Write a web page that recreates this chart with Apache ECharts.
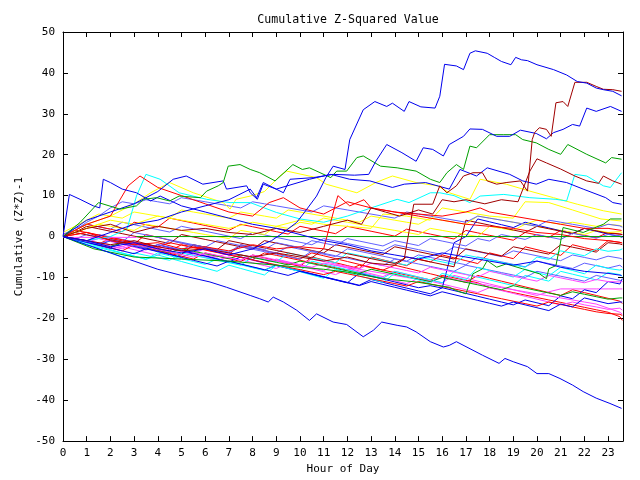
<!DOCTYPE html>
<html><head><meta charset="utf-8">
<script src="https://cdn.jsdelivr.net/npm/echarts@6/dist/echarts.min.js"></script>
<style>html,body{margin:0;padding:0;background:#fff}#c{width:640px;height:480px}</style>
</head><body><div id="c"></div><script>
const TITLE = 'Cumulative Z-Squared Value';
const X_NAME = 'Hour of Day';
const Y_NAME = 'Cumulative (Z*Z)-1';
const HALF = [0,0.5,1,1.5,2,2.5,3,3.5,4,4.5,5,5.5,6,6.5,7,7.5,8,8.5,9,9.5,10,10.5,11,11.5,12,12.5,13,13.5,14,14.5,15,15.5,16,16.5,17,17.5,18,18.5,19,19.5,20,20.5,21,21.5,22,22.5,23,23.5,23.6];

// detailed traces [hour, value]
const blueA = [[0,0],[1,-1],[2,-2.5],[3,-1.5],[4,-3],[5,-4],[6,-3],[7,-4.5],[8,-3],[8.8,-1],[9.3,1],[9.86,3.45],[10.2,6],[10.7,9.9],[11.1,14.5],[11.4,17.2],[11.9,16.4],[12.1,23.7],[12.67,31],[13.16,33],[13.66,31.8],[13.9,32.6],[14.4,30.6],[14.6,33],[15.1,31.7],[15.7,31.4],[15.9,34.3],[16.1,42.1],[16.6,41.7],[16.9,40.8],[17.17,44.8],[17.4,45.4],[17.9,44.8],[18.2,43.8],[18.5,42.8],[18.9,42],[19.1,43.8],[19.35,43.2],[19.6,43],[20,42],[20.7,40.8],[21.25,39.5],[21.7,37.9],[22.1,37.5],[22.5,36.3],[22.8,35.9],[23.2,35.5],[23.57,34.4]];
const darkRedB = [[0,0],[1,-1],[2,-2],[3,-1],[4,-2.5],[5,-3.5],[6,-3],[7,-4],[8,-5],[9,-4],[10,-5],[11,-6],[12,-5],[13,-6.5],[14,-7],[14.4,-5.5],[14.8,7.9],[15.6,7.9],[15.9,12.4],[16.2,10.7],[16.6,12.4],[16.9,14.8],[17.3,15.6],[17.7,15.6],[17.9,13.6],[18.3,12.8],[18.7,13.2],[19.3,13.6],[19.6,11.1],[19.8,23.7],[19.9,25.4],[20.1,26.6],[20.4,26.2],[20.6,24.5],[20.8,32.7],[21.1,33],[21.3,31.8],[21.6,37.7],[22.1,37.7],[22.5,36.7],[22.8,36],[23.2,35.9],[23.57,35.5]];
const blueC = [[0,0],[1,-1],[2,1],[3,3],[4,4],[5,6],[6,7.5],[7,9],[7.9,11.6],[8.17,9.5],[8.45,13.2],[9.3,10.7],[9.58,14],[10.56,14.4],[11.4,15.2],[12.3,15],[12.9,15.2],[13.2,18.4],[13.66,22.5],[14.3,20.5],[14.9,18.4],[15.2,21.7],[15.6,21.3],[16.05,19.7],[16.3,22.5],[16.9,24.5],[17.17,26.3],[17.7,26.2],[18.3,24.5],[18.85,24.5],[19.3,26],[19.97,25.2],[20.4,23.9],[20.7,25.4],[21.1,26.2],[21.5,27.4],[21.8,27],[22.1,31.4],[22.5,30.6],[23.1,31.8],[23.57,30.6]];
const blueD = [[0,0],[0.27,10.3],[0.72,9.1],[1.28,7.5],[1.55,7],[1.7,14],[2,13.2],[2.5,11.6],[3.1,10.7],[3.7,8.7],[4.1,9.9],[5,7.5],[6,6],[7,4.5],[8,3],[9,2],[10,0.5],[11,-1],[12,-2],[13,-3.5],[14,-4.5],[15,-5.5],[16,-4],[17,-5],[18,-6],[19,-7],[20,-6],[21,-7.5],[22,-8.5],[23,-9],[23.57,-9.5]];
const greenE = [[0,0],[0.72,3.45],[1.5,8.3],[2.4,6.7],[3.1,7.5],[3.4,9.1],[3.95,9.5],[4.5,8.7],[4.9,9.9],[5.8,9.5],[6.06,11.1],[6.55,12.4],[6.76,13.2],[6.97,17.2],[7.47,17.6],[7.9,16.4],[8.3,15.6],[8.95,13.6],[9.7,17.6],[10.1,16.4],[10.4,16.8],[11.3,14.4],[11.55,16],[11.97,16],[12.4,19.3],[12.67,19.7],[13.4,17.2],[14.1,16.8],[14.9,16],[15.5,14],[15.9,13.2],[16.2,15.6],[16.6,17.6],[16.9,16.4],[17.17,22.1],[17.45,21.7],[18,24.9],[18.6,24.9],[19.1,24.9],[19.4,23.7],[19.97,22.9],[20.5,21.3],[21,20.1],[21.3,22.5],[22.1,20.1],[22.9,18],[23.15,19.3],[23.57,18.9]];
const cyanF = [[0,0],[1,-1],[2,0],[2.7,1.8],[3.1,9.9],[3.5,15.2],[4.1,14],[4.9,10.7],[6.06,9.1],[7.05,8.3],[7.9,8.3],[9,5.9],[10,4.3],[11,3.5],[12,5],[13,7],[14.1,9.1],[14.6,8.3],[15.5,10.7],[15.9,10.7],[16.5,10],[17.17,8.3],[17.6,9.9],[18.6,10.3],[19.7,9.5],[20.8,9.1],[21.25,8.7],[21.6,15.2],[22.1,14.8],[22.8,12.4],[23.1,12],[23.57,15.6]];
const darkRedG = [[0,0],[1,2],[2,3],[3,1],[4,2.5],[5,1.5],[6,2],[7,1],[8,0.5],[9,2],[10,1],[11,2.5],[12,4],[12.6,3],[13,7],[13.6,6],[14.2,5],[15,6.5],[15.6,5.5],[16,9],[16.5,8.5],[17,9],[17.8,8],[18.5,9],[19.2,8.5],[19.7,16],[20,19],[20.4,18],[21,16.5],[21.6,14.8],[22.1,13.6],[22.6,13],[22.8,14.8],[23.2,13.6],[23.57,12.8]];
const blueH = [[0,0],[1,4],[2,6],[3,8],[4,11],[4.65,14],[5.2,14.8],[5.9,12.8],[6.76,13.6],[6.9,11.6],[7.75,12.4],[7.9,10.7],[8.2,9.1],[8.45,12.8],[9,11.6],[10.4,14],[11.3,15.2],[12.1,14],[12.95,13.6],[13.9,12],[14.4,12.8],[15.3,13.2],[16.3,11.6],[16.75,16.4],[17.45,14.8],[17.9,16.8],[18.85,15.2],[19.4,13.6],[19.97,12.8],[20.5,14],[21.25,13.2],[21.95,11.6],[22.9,9.5],[23.2,8.3],[23.57,7.9]];
const yellowY1 = [[0,0],[1,3],[2,5],[3,8],[3.7,10.7],[4.5,13.2],[5.5,10.7],[6.76,8.3],[7.05,6.7],[7.3,9.1],[7.9,9.9],[8.5,11],[9.15,14.8],[9.44,16],[10.7,14.4],[11.1,12.8],[12.4,10.7],[13.2,13.2],[13.9,14.8],[14.9,13.2],[15.8,12.4],[16.3,10.7],[17.17,9.1],[17.6,14],[18.7,12.8],[19.7,11.1],[20.7,9.5],[21.7,7.9],[22.8,6.3],[23.57,5.5]];
const yellowY2 = [[0,0],[1,2],[2,4],[3,3],[4,5],[5,4],[6,3],[7,2],[8,3.5],[9,2.5],[10,4],[11,3],[12,2.5],[13,2],[13.5,5.5],[14.5,5],[15.5,4],[16,7],[17,6],[18,5],[19,4.5],[19.5,8.5],[20.5,8.3],[21.5,6.5],[22.7,4.3],[23.57,3.8]];
const green2 = [[0,0],[1.3,-3],[3,-5],[5,-5.5],[7,-6],[9,-7],[11,-8],[12,-8.7],[13.5,-10.3],[14.9,-11.1],[16.3,-12.4],[16.6,-13.2],[17,-14],[17.3,-9.1],[17.7,-7.9],[17.9,-5.9],[18.3,-7.5],[18.7,-6.7],[19.4,-7.9],[20.1,-9.1],[20.4,-10.3],[20.5,-7.9],[20.8,-7.1],[20.97,-2.2],[21.1,2.2],[21.95,1],[22.8,3],[23.1,4.3],[23.57,4.3]];
const blueBottom = [[0,0],[1,-2],[2,-4],[3,-6],[4,-8],[5,-9.5],[6.2,-11.1],[6.9,-12.4],[7.9,-14.4],[8.3,-15.2],[8.66,-16],[8.87,-14.8],[9.3,-16],[9.86,-18],[10.4,-20.5],[10.7,-18.9],[11.4,-20.9],[11.97,-21.5],[12.67,-24.5],[13.1,-22.9],[13.45,-20.9],[14.1,-21.7],[14.5,-22.1],[14.9,-23.3],[15.5,-25.7],[16.05,-27],[16.3,-26.6],[16.6,-25.7],[17.3,-27.8],[17.7,-29],[18.4,-31],[18.65,-29.8],[19,-30.6],[19.6,-31.8],[20,-33.5],[20.5,-33.5],[20.97,-34.7],[21.5,-36.3],[21.95,-37.9],[22.5,-39.5],[23.08,-40.8],[23.57,-42]];
const redR2 = [[0,0],[1,1],[2,-1],[3,-2],[4,-1.5],[5,-3],[6,-2.5],[7,-3.5],[8,-2],[9,-3],[10,-2.5],[11,-3],[11.5,8],[11.6,10],[12.1,7.5],[12.7,9],[13,7],[14,6],[15,5.5],[16,5],[17,6],[17.6,7],[18,6],[19,5],[20,4],[21,3],[22,2],[23,2],[23.57,1.5]];
const redR1 = [[0,0],[1,3],[2,5],[2.75,12.4],[3.25,14.8],[4,12],[5,10],[6,8],[7,6],[8,5],[8.7,8.3],[9.3,9.5],[10,7],[11,5.5],[12,8.5],[13,7],[14,6],[15,5],[16,4],[17,3],[18,2.5],[19,2],[20,1],[21,0.5],[22,-0.5],[23,-1],[23.57,-1.5]];
const greenFlat = [[3.1,0],[23.6,0]];
const magentaFlat = [[0,-0.2],[3.1,-0.2]];

// half-hourly traces of the dense band (values at HALF)
const h1 = [0,-0.6,-1.2,-1.8,-0.5,-1.1,-1.7,-2.3,-2.9,-3.5,-2,-2.6, -3.2,-3.8,-4.4,-5,-5.6,-4,-4.6,-5.2,-5.8,-6.4,-7,-7.6, -8.2,-7,-7.6,-8.2,-8.8,-9.4,-10,-10.6,-9.5,-10.1,-10.7,-11.3, -12.5,-13.1,-13.7,-14.3,-14.9,-15.5,-16.1,-16.7,-17.3,-17.9,-18.5,-19.6,-20.5];
const h2 = [0,-0.8,-1.5,-2.2,-3,-2.5,-3.2,-3.9,-4.6,-3,-3.7,-4.4, -5.1,-5.8,-5,-5.7,-6.4,-7.1,-7.8,-6.5,-7.2,-7.9,-8.6,-9.3, -8,-8.7,-9.4,-10.1,-10.8,-11.5,-10.2,-10.9,-11.6,-12.3,-13,-13.7, -12.5,-13.2,-13.9,-14.6,-15.3,-16,-16.7,-16,-16.7,-17.2,-17.8,-17.5,-18];
const h3 = [0.5,1.5,1,0.3,-0.4,-1.1,-1.8,0.5,-0.2,-0.9,-1.6,-2.3, -3,-3.7,-4.4,-2,-2.7,-3.4,-4.1,-4.8,-5.5,-4,-4.7,-5.4, -6.1,-6.8,-7.5,-8.2,-7,-7.7,-8.4,-9.1,-9.8,-10.5,-11.2,-9.5, -10.2,-10.9,-11.6,-12.3,-13,-13.7,-14.4,-13,-13.7,-14.4,-15.1,-15.8,-16.4];
const h4 = [0,-0.7,-1.4,-0.5,-1.2,-1.9,-2.6,-3.3,-2,-2.7,-3.4,-4.1, -3,-3.7,-4.4,-5.1,-5.8,-6.5,-5.5,-6.2,-6.9,-7.6,-8.3,-7, -7.7,-8.4,-9.1,-9.8,-8.5,-9.2,-9.9,-10.6,-11.3,-9.5,-10.2,-10.9, -11.6,-12.3,-13,-13.7,-14.4,-13.5,-12.8,-12.8,-12.8,-12.8,-12.8,-12.8,-12.8];
const h5 = [0,-0.7,-1.4,-2.1,-2.8,-1.5,-2.2,-2.9,-3.6,-4.3,-5,-4, -4.7,-5.4,-6.1,-6.8,-7.5,-8.2,-7,-7.7,-8.4,-9.1,-9.8,-10.5, -11.2,-11.9,-10.5,-11.2,-11.9,-12.6,-13.3,-14,-12.5,-13.2,-13.9,-14.6, -15.3,-16,-16.7,-15.5,-16.2,-16.9,-14.5,-15.2,-13,-13.7,-11,-11.6,-10.3];
const h6 = [0,-1,-2,-2.7,-3.4,-4.1,-4.8,-5.5,-4,-4.7,-5.4,-6.1, -6.8,-5.5,-6.2,-6.9,-7.6,-8.3,-7,-7.7,-8.4,-6,-6.7,-7.4, -8.1,-8.8,-9.5,-10.2,-8.5,-9.2,-9.9,-10.6,-11.3,-8.5,-9.2,-9.9, -10.6,-11.3,-12,-9.5,-10.2,-10.9,-8.5,-9.2,-9.9,-10.6,-8.8,-9.3,-9.7];
const h7 = [0,-0.6,0.5,-0.1,-0.7,-1.3,1,0.4,-0.2,-0.8,-1.4,-2, -2.6,-1,-1.6,-2.2,-2.8,-3.4,-4,-2.5,-3.1,-3.7,-4.3,-4.9, -3,-3.6,-4.2,-4.8,-5.4,-6,-4.5,-5.1,-5.7,-6.3,-6.9,-5, -5.6,-6.2,-6.8,-7.4,-6,-6.6,-7.2,-7.8,-6.5,-7.1,-7.7,-7,-7.5];
const h8 = [0.5,2,3,2.4,1.8,3.5,2.9,2.3,1.7,1.1,2.5,1.9, 1.3,0.7,0.1,-0.5,1,0.4,-0.2,-0.8,-1.4,-2,-0.5,-1.1, -1.7,-2.3,-2.9,-3.5,-2,-2.6,-3.2,-3.8,-4.4,-2.5,-3.1,-3.7, -4.3,-4.9,-3.5,-4.1,-4.7,-5.3,-5.9,-4.5,-5.1,-5.7,-4.8,-5.3,-5.5];
const h9 = [0,-0.7,-1.4,-2.1,-2.8,-3.5,-2,-2.7,-3.4,-4.1,-4.8,-5.5, -4,-4.7,-5.4,-6.1,-4.5,-5.2,-5.9,-6.6,-7.3,-5,-5.7,-6.4, -7.1,-7.8,-5,-5.7,-6.4,-7.1,-5.5,-6.2,-4.5,-5.2,-5.9,-6.6, -4,-4.7,-5.4,-2.5,-3.2,-3.9,-4.6,-2,-2.7,-3.4,-1,-1.4,-1.6];
const h10 = [0,1.5,3,2.4,1.8,1.2,3.5,2.9,2.3,4.5,3.9,3.3, 2.7,2.1,1.5,3,2.4,1.8,1.2,0.6,2.5,1.9,1.3,0.7, 2.5,1.9,1.3,0.7,0.1,1.8,1.2,0.6,0,-0.6,1.5,0.9, 0.3,-0.3,-0.9,1,0.4,-0.2,1.5,0.9,0.3,-0.3,1,0.6,0.5];
const h11 = [0,1,2.5,1.9,1.3,0.7,0.1,-0.5,-1.1,-1.7,0.5,-0.1, -0.7,-1.3,-1.9,-2.5,-3.1,-1,-1.6,-2.2,-2.8,-3.4,-4,-2, -2.6,-3.2,-3.8,-4.4,-2.5,-3.1,-3.7,-4.3,-4.9,-5.5,-3,-3.6, -4.2,-4.8,-2.5,-3.1,-3.7,-4.3,-2,-2.6,-3.2,-3.8,-1.5,-1.8,-2];
const h12 = [0,-1,-2,-3,-4,-5,-4,-4.6,-5.2,-5.8,-4,-4.6, -5.2,-5.8,-6.4,-7,-5,-5.6,-6.2,-4,-4.6,-5.2,-5.8,-6.4, -4,-4.6,-5.2,-5.8,-6.4,-7,-5,-5.6,-6.2,-6.8,-4.5,-5.1, -5.7,-6.3,-6.9,-7.5,-5,-5.6,-3.5,-4.1,-4.7,-3,-3.6,-3.3,-3];
const h13 = [0,-0.5,-1,-1.5,-2,-2.5,-1.5,-2,-2.5,-3,-3.5,-4, -4.5,-5,-4,-4.5,-5,-5.5,-6,-6.5,-7,-7.5,-6.5,-7, -7.5,-8,-8.5,-9,-9.5,-10,-10.5,-11,-10,-10.5,-11,-11.5, -12,-12.5,-13,-13.5,-14,-14.5,-15,-15.5,-16,-16.5,-17.5,-18.5,-19];
const h14 = [0,1,2,3,2.5,2,1.5,3,2.5,2,1.5,1, 0.5,0,-0.5,1.5,1,0.5,2.5,2,3.5,3,4.5,4, 3.5,3,2.5,2,1.5,1,0.5,2,1.5,1,0.5,0, 2.5,2,1.5,3,2.5,2,1.5,1,0.5,1.5,1,1.2,1];
const h15 = [0,-0.7,-1.4,-2.1,-1,-1.7,-2.4,-3.1,-2,-2.7,-3.4,-4.1, -4.8,-5.5,-6.2,-5,-5.7,-6.4,-7.1,-7.8,-8.5,-9.2,-9.9,-10.6, -11.3,-9,-9.7,-10.4,-11.1,-11.8,-12.5,-12,-12.6,-1.5,0,4.3, 3.6,2.9,2.2,3.5,2.8,2.1,1.4,0.7,2,1.3,0.6,0,-0.2];
const h16 = [0,-0.6,-1.2,-1.8,-2.4,-1.5,-2.1,-2.7,-3.3,-3.9,-3,-3.6, -4.2,-4.8,-5.4,-4.5,-5.1,-5.7,-6.3,-6.9,-6,-6.6,-7.2,-7.8, -8.4,-9,-8,-8.6,-9.2,-9.8,-10.4,-11,-10,-10.6,-11.2,-11.8, -12.4,-13,-12,-12.6,-13.2,-13.8,-14.4,-13.5,-14.1,-14.7,-15.3,-15,-15];
const h17 = [0,-0.6,-1.2,0.5,-0.1,-0.7,-1.3,-1.9,-2.5,-1,-1.6,-2.2, -2.8,-3.4,-4,-2.5,-3.1,-3.7,-4.3,-4.9,-5.5,-3.5,-4.1,-4.7, -5.3,-5.9,-6.5,-7.1,-5.5,-6.1,-6.7,-7.3,-7.9,-8.5,-7,-7.6, -8.2,-8.8,-9.4,-10,-8.5,-9.1,-9.7,-10.3,-10.9,-9.5,-10.1,-10.7,-11];
const h18 = [0,-0.8,-1.6,-2.4,-3.2,-4,-4.8,-5.6,-4.5,-5.3,-6.1,-6.9, -7.7,-8.5,-7,-7.8,-8.6,-9.4,-7,-7.8,-8.6,-9.4,-10.2,-8, -8.8,-9.6,-10.4,-11.2,-9,-9.8,-10.6,-11.4,-9,-9.8,-10.6,-7.5, -8.3,-9.1,-9.9,-8,-8.8,-9.6,-7.5,-8.3,-9.1,-7,-7.8,-8.2,-8];
const h19 = [0,0.5,1,0.4,-0.2,-0.8,-1.4,-2,-2.6,-1.5,-2.1,-2.7, -3.3,-3.9,-4.5,-5.1,-5.7,-6.3,-6.9,-7.5,-8.1,-8.7,-9.3,-8.5, -9.1,-9.7,-10.3,-10.9,-11.5,-12.1,-11,-11.6,-12.2,-12.8,-13.4,-14, -14.6,-15.2,-15.8,-16.4,-17,-16,-16.6,-17.2,-17.8,-18.4,-18.8,-19,-19.3];
const h20 = [0,1,0.4,-0.2,-0.8,-1.4,-2,-2.6,-3.2,-3.8,-4.4,-2, -2.6,-3.2,-1,-1.6,-2.2,-2.8,-3.4,-4,-4.6,-5.2,-3,-3.6, -4.2,-4.8,-5.4,-6,-6.6,-5,-5.6,-6.2,-6.8,-7.4,4,3.4, 2.8,2.2,1.6,1,2.5,1.9,1.3,0.7,2,1.4,0.8,0.6,0.5];
const h21 = [0,-0.6,-1.2,-1.8,-2.4,-3,-2,-2.6,-3.2,-3.8,-4.4,-5, -4,-4.6,-5.2,-5.8,-4.5,-5.1,-5.7,-6.3,-6.9,-5.5,-6.1,-6.7, -7.3,-7.9,-6.5,-7.1,-7.7,-8.3,-8.9,-7.5,-8.1,-8.7,-9.3,-9.9, -8.5,-9.1,-9.7,-10.3,-10.9,-9.5,-10.1,-10.7,-11.3,-10.5,-11,-11.1,-11];
const h22 = [0,-0.7,-1.4,-2.1,-2.8,-3.5,-4.2,-3,-3.7,-4.4,-5.1,-5.8, -6.5,-7.2,-6,-6.7,-7.4,-8.1,-8.8,-9.5,-8.5,-9.2,-9.9,-10.6, -11.3,-12,-11,-11.7,-12.4,-13.1,-13.8,-14.5,-13.5,-14.2,-14.9,-15.6, -16.3,-17,-16,-16.7,-17.4,-18.1,-16.5,-17.2,-15,-15.7,-16.4,-16,-16];
const h23 = [0,-0.6,-1.2,-1.8,-1,-1.6,-2.2,-2.8,-2,-2.6,-3.2,-2, -2.6,-3.2,-3.8,-2,-2.6,-3.2,-1.5,-2.1,-2.7,-1,-1.6,-2.2, -0.5,-1.1,-1.7,-2.3,-1,-1.6,-2.2,-0.5,-1.1,-1.7,-2.3,-0.5, -1.1,0.5,-0.1,-0.7,0.5,-0.1,-0.7,0.8,0.2,-0.4,0.5,0.2,0];
const h24 = [1,2.5,4,5.5,5,4.5,6,5.5,5,4.5,6.5,6, 5.5,5,4.5,6,5.5,5,4.5,6.5,6,5.5,5,4.5, 4,3.5,5,4.5,4,3.5,3,4.5,4,3.5,3,5, 4.5,4,3.5,3,4,3.5,3,3.5,3,2.5,3,2.7,2.5];
const h25 = [0,1.5,3.5,5,7,8.5,8,9,8.5,8,9.5,9, 8.5,8,7.5,7,8.5,8,7.5,7,6.5,6,7.5,7, 6.5,6,5.5,5,4.5,6,5.5,5,4.5,4,3.5,5, 4.5,4,3.5,3,2.5,4,3.5,3,2.5,2,3,2.6,2.3];

const C = {red:'#ff0000', green:'#00a000', blue:'#0000ee', magenta:'#ff44ff', cyan:'#00ffff', darkred:'#a00000', yellow:'#ffff00', lblue:'#6060ff'};

const halfHourly = (arr) => arr.map((v, i) => [HALF[i], v]).filter(p => p[0] !== undefined);

const lines = [
  [h1, C.red], [h2, C.magenta], [h3, C.red], [h4, C.magenta], [h5, C.blue], [h6, C.cyan],
  [h7, C.lblue], [h8, C.lblue], [h9, C.red], [h10, C.red], [h11, C.darkred], [h12, C.cyan],
  [h13, C.magenta], [h14, C.yellow], [h15, C.blue], [h16, C.green], [h17, C.lblue], [h18, C.cyan],
  [h19, C.red], [h20, C.darkred], [h21, C.magenta], [h22, C.blue], [h23, C.lblue], [h24, C.yellow],
  [h25, C.lblue]
].map(([a, c]) => [halfHourly(a), c]);

const detailed = [
  [magentaFlat, C.magenta], [greenFlat, C.green],
  [yellowY2, C.yellow], [yellowY1, C.yellow], [cyanF, C.cyan], [redR1, C.red], [redR2, C.red],
  [green2, C.green], [darkRedG, C.darkred], [blueD, C.blue], [blueH, C.blue], [greenE, C.green],
  [blueC, C.blue], [darkRedB, C.darkred], [blueA, C.blue], [blueBottom, C.blue]
];

const all = lines.concat(detailed);
const FONT = 'DejaVu Sans Mono';
const axisCommon = {
  axisLine: {show: true, onZero: false, lineStyle: {color: '#000', width: 1}},
  axisTick: {show: true, inside: true, length: 5, lineStyle: {color: '#000'}},
  splitLine: {show: false}
};
const chart = echarts.init(document.getElementById('c'), null, {renderer: 'canvas'});
chart.setOption({
  animation: false,
  backgroundColor: '#fff',
  title: {text: TITLE, left: 343, top: 9, textAlign: 'center',
    textStyle: {fontFamily: FONT, fontSize: 11.6, fontWeight: 'normal', color: '#000'}},
  grid: {left: 63, right: 17, top: 32, bottom: 37, containLabel: false},
  xAxis: [
    Object.assign({type: 'value', min: 0, max: 23.63, interval: 1, position: 'bottom',
      name: X_NAME, nameLocation: 'middle', nameGap: 22,
      nameTextStyle: {fontFamily: FONT, fontSize: 11, color: '#000'},
      axisLabel: {fontFamily: FONT, fontSize: 11, color: '#000', margin: 7, showMaxLabel: false,
        formatter: v => String(v)}}, axisCommon),
    Object.assign({type: 'value', min: 0, max: 23.63, interval: 1, position: 'top',
      axisLabel: {show: false}}, axisCommon)
  ],
  yAxis: [
    Object.assign({type: 'value', min: -50, max: 50, interval: 10, position: 'left',
      name: Y_NAME, nameLocation: 'middle', nameGap: 36, nameRotate: 90,
      nameTextStyle: {fontFamily: FONT, fontSize: 11, color: '#000'},
      axisLabel: {fontFamily: FONT, fontSize: 11, color: '#000', margin: 8}}, axisCommon),
    Object.assign({type: 'value', min: -50, max: 50, interval: 10, position: 'right',
      axisLabel: {show: false}}, axisCommon)
  ],
  series: all.map(([d, c]) => ({
    type: 'line', data: d, showSymbol: false, symbol: 'none', silent: true,
    lineStyle: {color: c, width: 1}, itemStyle: {color: c}
  }))
});
</script></body></html>
